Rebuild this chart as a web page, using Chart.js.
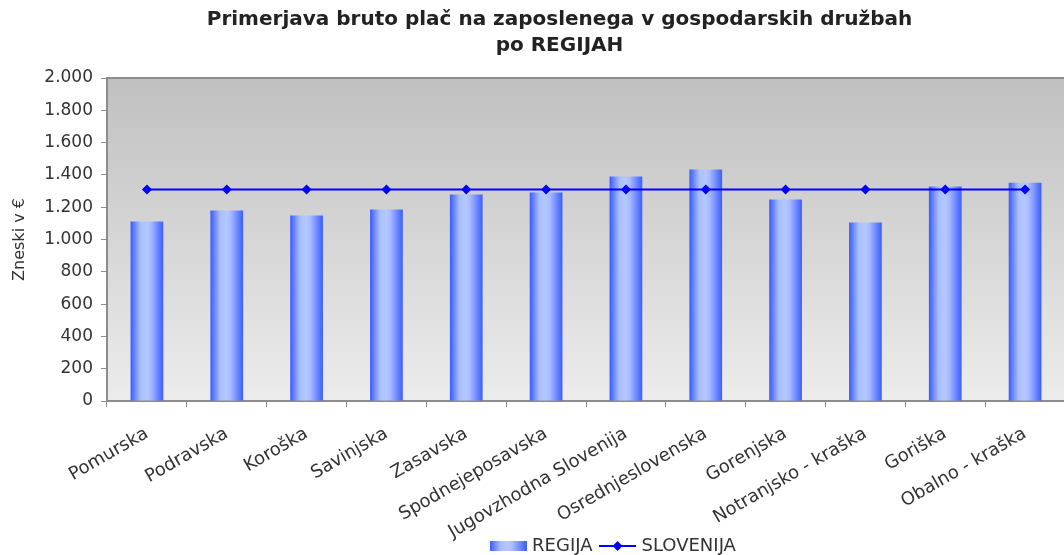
<!DOCTYPE html>
<html>
<head>
<meta charset="utf-8">
<script src="https://cdn.jsdelivr.net/npm/chart.js@4/dist/chart.umd.min.js"></script>
<style>
  html, body { margin: 0; padding: 0; background: #fff; overflow: hidden; }
  #wrap { width: 1064px; height: 555px; overflow: hidden; }
</style>
</head>
<body>
<div id="wrap"><canvas id="c" width="1070" height="555"></canvas></div>
<script>
const categories = ['Pomurska', 'Podravska', 'Koroška', 'Savinjska', 'Zasavska', 'Spodnejeposavska',
  'Jugovzhodna Slovenija', 'Osrednjeslovenska', 'Gorenjska', 'Notranjsko - kraška', 'Goriška', 'Obalno - kraška'];
const regija = [1111, 1179, 1148, 1186, 1278, 1291, 1390, 1433, 1248, 1105, 1328, 1352];
const slovenija = [1310, 1310, 1310, 1310, 1310, 1310, 1310, 1310, 1310, 1310, 1310, 1310];
const yTicks = [0, 200, 400, 600, 800, 1000, 1200, 1400, 1600, 1800, 2000];
const seriesNames = ['REGIJA', 'SLOVENIJA'];
const titleLines = ['Primerjava bruto plač na zaposlenega v gospodarskih družbah', 'po REGIJAH'];
const yTitle = 'Zneski v €';

const FONT = 'DejaVu Sans';
const TXT = '#333333';
const BAR_PCT = 0.41;

function fmt(v) {
  const s = String(Math.round(v));
  return s.replace(/\B(?=(\d{3})+(?!\d))/g, '.');
}

function barGradient(c, x0, x1) {
  if (!isFinite(x0) || !isFinite(x1) || x1 <= x0) return '#6f8cff';
  const g = c.createLinearGradient(x0, 0, x1, 0);
  g.addColorStop(0, '#3a5aff');
  g.addColorStop(0.3, '#aabfff');
  g.addColorStop(0.5, '#b4c7ff');
  g.addColorStop(0.62, '#a6bbff');
  g.addColorStop(1, '#3d5dff');
  return g;
}

// legend swatches
const barSwatch = document.createElement('canvas');
barSwatch.width = 37; barSwatch.height = 10;
(function () {
  const c = barSwatch.getContext('2d');
  c.fillStyle = barGradient(c, 0, 37);
  c.fillRect(0, 0, 37, 10);
})();
const lineSwatch = document.createElement('canvas');
lineSwatch.width = 37; lineSwatch.height = 12;
(function () {
  const c = lineSwatch.getContext('2d');
  c.strokeStyle = '#0000ff'; c.lineWidth = 2;
  c.beginPath(); c.moveTo(0, 6); c.lineTo(37, 6); c.stroke();
  c.fillStyle = '#0000ff';
  c.beginPath(); c.moveTo(18.5, 1); c.lineTo(23.5, 6); c.lineTo(18.5, 11); c.lineTo(13.5, 6); c.closePath(); c.fill();
})();

const plotBg = {
  id: 'plotBg',
  beforeDraw(chart) {
    const a = chart.chartArea, c = chart.ctx;
    if (!a || !isFinite(a.top) || !isFinite(a.bottom)) return;
    const g = c.createLinearGradient(0, a.top, 0, a.bottom);
    g.addColorStop(0, '#c0c0c0');
    g.addColorStop(1, '#ececec');
    c.save();
    c.fillStyle = g;
    c.fillRect(a.left, a.top, a.right - a.left, a.bottom - a.top);
    c.strokeStyle = '#8c8c8c';
    c.lineWidth = 2;
    c.beginPath();
    c.moveTo(a.left, a.top); c.lineTo(a.right, a.top); c.lineTo(a.right, a.bottom);
    c.stroke();
    c.restore();
  }
};

const LEGEND_DX = 80, LEGEND_DY = 10;
const shiftBoxes = {
  id: 'shiftBoxes',
  afterLayout(chart) {
    const t = chart.titleBlock;
    if (t) { t.left += 25; t.right += 25; }
    const l = chart.legend;
    if (l) { l.left += LEGEND_DX; l.right += LEGEND_DX; l.top += LEGEND_DY; l.bottom += LEGEND_DY; }
    // let the rotated category labels run below the axis box without being clipped
    const xs = chart.scales.x;
    if (xs) { xs.bottom = chart.height; }
  }
};

new Chart(document.getElementById('c'), {
  data: {
    labels: categories,
    datasets: [
      {
        type: 'bar',
        label: seriesNames[0],
        data: regija,
        order: 1,
        barPercentage: BAR_PCT,
        categoryPercentage: 1,
        borderWidth: 0,
        backgroundColor(ctx) {
          const chart = ctx.chart, xs = chart.scales && chart.scales.x;
          if (ctx.type !== 'data' || !xs || !isFinite(xs.width) || xs.width <= 0) return '#6f8cff';
          const cx = xs.getPixelForValue(ctx.dataIndex);
          const w = (xs.width / categories.length) * BAR_PCT;
          return barGradient(chart.ctx, cx - w / 2, cx + w / 2);
        }
      },
      {
        type: 'line',
        label: seriesNames[1],
        data: slovenija,
        order: 0,
        borderColor: '#0000ff',
        borderWidth: 2,
        pointStyle: 'rectRot',
        pointRadius: 5,
        pointBackgroundColor: '#0000ff',
        pointBorderColor: '#0000ff',
        pointBorderWidth: 0,
        fill: false,
        tension: 0
      }
    ]
  },
  options: {
    responsive: false,
    animation: false,
    layout: { padding: { left: 0, right: 1, top: 0, bottom: 0 } },
    scales: {
      x: {
        offset: true,
        grid: { offset: true, drawOnChartArea: false, drawTicks: true, tickLength: 6, color: '#8c8c8c', lineWidth: 1 },
        border: { display: true, color: '#8c8c8c', width: 2 },
        ticks: {
          color: TXT, font: { family: FONT, size: 18 }, minRotation: 30, maxRotation: 30,
          autoSkip: false, padding: 16
        },
        afterFit(scale) { scale.height = 116; }
      },
      y: {
        min: 0, max: 2000,
        afterBuildTicks(scale) { scale.ticks = yTicks.map(v => ({ value: v })); },
        grid: { drawOnChartArea: false, drawTicks: true, tickLength: 6, color: '#8c8c8c' },
        border: { display: true, color: '#8c8c8c', width: 2 },
        ticks: { color: TXT, font: { family: FONT, size: 17 }, padding: 8, callback: v => fmt(v) },
        title: { display: true, text: yTitle, color: TXT, font: { family: FONT, size: 16 }, padding: { top: 10, bottom: 0 } },
        afterFit(scale) { scale.width = 107; }
      }
    },
    plugins: {
      title: {
        display: true,
        text: titleLines,
        color: '#222222',
        font: { family: FONT, size: 20, weight: 'bold', lineHeight: 1.3 },
        padding: { top: 7, bottom: 19 }
      },
      legend: {
        display: true,
        position: 'bottom',
        labels: {
          usePointStyle: true,
          pointStyleWidth: 30,
          boxHeight: 12,
          padding: 10,
          color: TXT,
          font: { family: FONT, size: 18 },
          sort: (a, b) => a.datasetIndex - b.datasetIndex,
          generateLabels(chart) {
            const items = Chart.defaults.plugins.legend.labels.generateLabels(chart);
            items.forEach(it => {
              it.pointStyle = it.datasetIndex === 0 ? barSwatch : lineSwatch;
              it.lineWidth = 0;
              it.fontColor = TXT;
            });
            return items;
          }
        }
      },
      tooltip: { enabled: false }
    }
  },
  plugins: [plotBg, shiftBoxes]
});
</script>
</body>
</html>
